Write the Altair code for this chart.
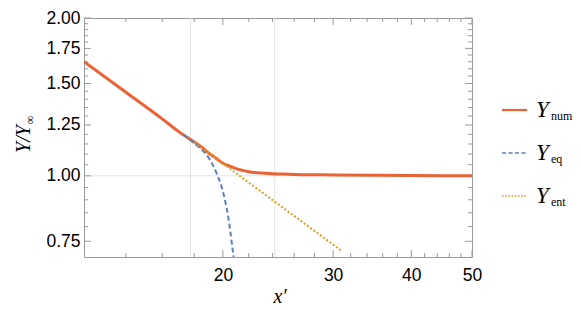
import altair as alt
import pandas as pd

# ---- data ----
x_num = [12, 14, 16, 17, 18, 18.5, 19, 19.5, 20, 20.5, 21, 21.5, 22, 23, 24, 25, 26, 28, 30, 35, 40, 50]
y_num = [1.651, 1.443, 1.284, 1.214, 1.160, 1.134, 1.104, 1.080, 1.057, 1.043, 1.032, 1.024, 1.018, 1.0125,
         1.0095, 1.0078, 1.0062, 1.0045, 1.0035, 1.002, 1.001, 1.000]

x_eq = [17.3, 17.7, 18.0, 18.4, 18.8, 19.07, 19.3, 19.54, 19.9, 20.15, 20.39, 20.57, 20.73, 20.81]
y_eq = [1.199, 1.173, 1.154, 1.129, 1.099, 1.073, 1.045, 1.012, 0.954, 0.900, 0.837, 0.778, 0.723, 0.700]

x_ent = [18.0, 30.9]
y_ent = [1.158, 0.720]

x_major = [20, 30, 40, 50]
x_minor = [14, 16, 18, 22, 24, 26, 28, 32, 34, 36, 38, 42, 44, 46, 48]
y_major = [0.75, 1.00, 1.25, 1.50, 1.75, 2.00]
y_minor = [0.80, 0.85, 0.90, 0.95, 1.05, 1.10, 1.15, 1.20, 1.30, 1.35, 1.40, 1.45,
           1.55, 1.60, 1.65, 1.70, 1.80, 1.85, 1.90, 1.95]
x_grid = [17.75, 24.2]
y_grid = [1.0]

series_names = ["num", "eq", "ent"]
series_colors = ["#EB6235", "#5E81B5", "#E19C24"]

W, H = 388, 239
FRAME = "#9a9a9a"

xscale = alt.Scale(type="log", domain=[12, 50], nice=False)
yscale = alt.Scale(type="log", domain=[0.7, 2.0], nice=False)

xaxis = alt.Axis(values=x_major, format="d", title=None, ticks=False, tickSize=0, domain=False,
                 grid=False, labelFont="Liberation Sans", labelFontSize=17.5, labelColor="black",
                 labelPadding=9, labelFlush=False, labelOverlap=False)
yaxis = alt.Axis(values=y_major, format=".2f", title=None, ticks=False, tickSize=0, domain=False,
                 grid=False, labelFont="Liberation Sans", labelFontSize=17.5, labelColor="black",
                 labelPadding=4, labelOverlap=False)

X = lambda f: alt.X(f, scale=xscale, axis=xaxis)
Y = lambda f: alt.Y(f, scale=yscale, axis=yaxis)

layers = []

# grid lines
layers.append(alt.Chart(pd.DataFrame({"v": x_grid})).mark_rule(color="#e3e3e3", strokeWidth=1).encode(
    x=X("v:Q")))
layers.append(alt.Chart(pd.DataFrame({"v": y_grid})).mark_rule(color="#e3e3e3", strokeWidth=1).encode(
    y=Y("v:Q")))

# inward frame ticks
for vals, ln in [(x_major, 7), (x_minor, 4)]:
    d = pd.DataFrame({"v": vals})
    layers.append(alt.Chart(d).mark_rule(color=FRAME, strokeWidth=1).encode(
        x=X("v:Q"), y=alt.value(H), y2=alt.value(H - ln)))
    layers.append(alt.Chart(d).mark_rule(color=FRAME, strokeWidth=1).encode(
        x=X("v:Q"), y=alt.value(0), y2=alt.value(ln)))
for vals, ln in [(y_major, 7), (y_minor, 4)]:
    d = pd.DataFrame({"v": vals})
    layers.append(alt.Chart(d).mark_rule(color=FRAME, strokeWidth=1).encode(
        y=Y("v:Q"), x=alt.value(0), x2=alt.value(ln)))
    layers.append(alt.Chart(d).mark_rule(color=FRAME, strokeWidth=1).encode(
        y=Y("v:Q"), x=alt.value(W), x2=alt.value(W - ln)))

# curves
df_num = pd.DataFrame({"x": x_num, "y": y_num})
df_eq = pd.DataFrame({"x": x_eq, "y": y_eq})
df_ent = pd.DataFrame({"x": x_ent, "y": y_ent})

layers.append(alt.Chart(df_num).mark_line(color=series_colors[0], strokeWidth=3, interpolate="monotone", clip=True).encode(
    x=X("x:Q"), y=Y("y:Q"), order="x:Q"))
layers.append(alt.Chart(df_eq).mark_line(color=series_colors[1], strokeWidth=2, strokeDash=[5, 3], interpolate="monotone", clip=True).encode(
    x=X("x:Q"), y=Y("y:Q"), order="x:Q"))
layers.append(alt.Chart(df_ent).mark_line(color=series_colors[2], strokeWidth=2, strokeDash=[2, 2], clip=True).encode(
    x=X("x:Q"), y=Y("y:Q"), order="x:Q"))


def txt(s, x, y, size, style="normal", angle=0, align="left"):
    return alt.Chart(pd.DataFrame({"t": [s]})).mark_text(
        font="Liberation Serif", fontSize=size, fontStyle=style, align=align,
        baseline="alphabetic", angle=angle, color="black").encode(
        x=alt.value(x), y=alt.value(y), text="t:N")


# legend
dashes = [None, [4, 2.5], [1.6, 1.6]]
widths = [2.2, 1.6, 1.6]
for i, name in enumerate(series_names):
    ly = 92 + 43 * i
    kw = dict(color=series_colors[i], strokeWidth=widths[i])
    if dashes[i]:
        kw["strokeDash"] = dashes[i]
    layers.append(alt.Chart(pd.DataFrame({"s": [name]})).mark_rule(**kw).encode(
        x=alt.value(418), x2=alt.value(443), y=alt.value(ly)))
    layers.append(txt("Y", 452, ly + 7, 23, "italic"))
    layers.append(txt(name, 467, ly + 10, 12))

# axis titles
layers.append(txt("Y/Y", -54, 121, 20, "italic", angle=270, align="center"))
layers.append(txt("\u221e", -50, 102, 12, angle=270, align="center"))
layers.append(txt("x\u2032", 196, 285, 20, "italic", align="center"))

chart = alt.layer(*layers).properties(
    width=W, height=H,
    padding={"left": 76, "top": 10, "right": 101, "bottom": 50},
    autosize=alt.AutoSizeParams(type="none"),
).configure_view(stroke=FRAME, strokeWidth=1)

chart.save("out.html", embed_options={"renderer": "svg", "actions": False})
